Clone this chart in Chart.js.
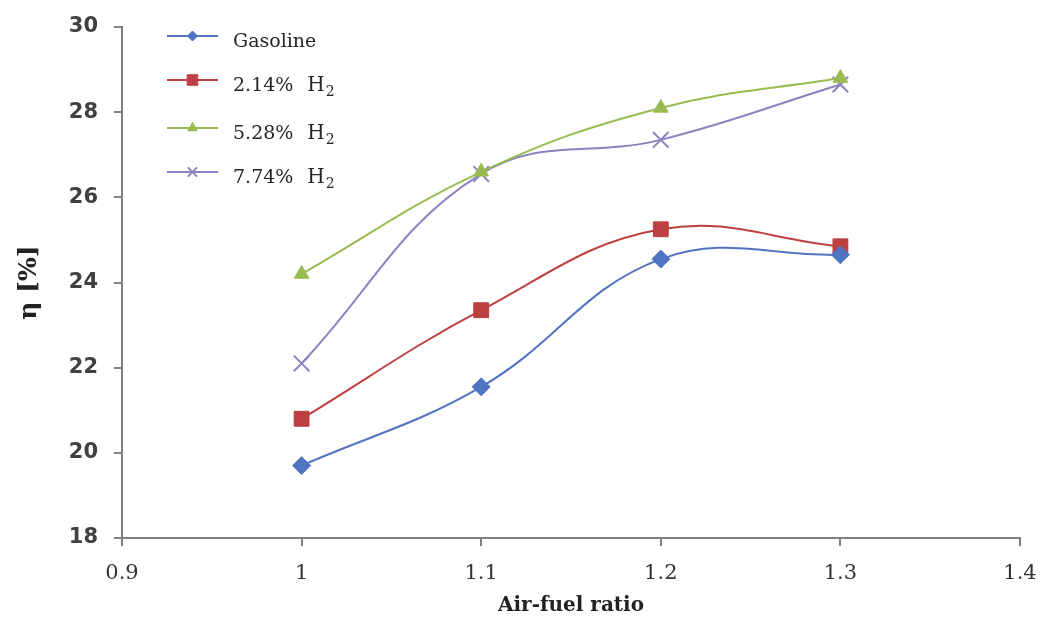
<!DOCTYPE html>
<html><head><meta charset="utf-8">
<script src="https://cdn.jsdelivr.net/npm/chart.js@4/dist/chart.umd.min.js"></script>
<style>html,body{margin:0;padding:0;background:#fff}#wrap{width:1045px;height:630px}</style>
</head><body><div id="wrap"><canvas id="c" width="1045" height="630"></canvas></div>
<script>
const airFuel = [1.0, 1.1, 1.2, 1.3];
const gasoline = [19.7, 21.55, 24.55, 24.65];
const h2_214 = [20.8, 23.35, 25.25, 24.85];
const h2_528 = [24.2, 26.6, 28.1, 28.8];
const h2_774 = [22.1, 26.55, 27.35, 28.65];
const seriesMain = ['Gasoline', '2.14%', '5.28%', '7.74%'];
const seriesChem = ['', 'H', 'H', 'H'];
const seriesSubs = ['', '2', '2', '2'];
const yTicks = [18, 20, 22, 24, 26, 28, 30];
const xTicks = [0.9, 1.0, 1.1, 1.2, 1.3, 1.4];

const SERIF = '"DejaVu Serif", "Liberation Serif", serif';
const toPts = arr => airFuel.map((x, i) => ({x: x, y: arr[i]}));
const styles = [
  {c: '#5074C0', ps: 'rectRot', r: 9, lr: 5},
  {c: '#BE3F3F', ps: 'rect', r: 10.5, lr: 7.5},
  {c: '#98BC50', ps: 'triangle', r: 8.5, lr: 5.5},
  {c: '#8A84C0', ps: 'crossRot', r: 11, lr: 6.5}
];
const dataArrs = [gasoline, h2_214, h2_528, h2_774];
const datasets = dataArrs.map((d, i) => ({
  label: seriesMain[i] + (seriesChem[i] ? ' ' + seriesChem[i] + seriesSubs[i] : ''),
  data: toPts(d),
  borderColor: styles[i].c,
  backgroundColor: styles[i].c,
  pointStyle: styles[i].ps,
  pointRadius: styles[i].r,
  pointBorderWidth: styles[i].ps === 'crossRot' ? 2 : 1,
  borderWidth: 2,
  tension: 0.4,
  fill: false
}));

const legendPlugin = {
  id: 'insideLegend',
  afterDraw(chart) {
    const ctx = chart.ctx;
    const ca = chart.chartArea;
    const x0 = ca.left + 45, x1 = ca.left + 96, xm = (x0 + x1) / 2, xt = ca.left + 111;
    const ys = [36, 80, 128, 172];
    ctx.save();
    datasets.forEach((ds, i) => {
      const y = ys[i];
      ctx.strokeStyle = ds.borderColor;
      ctx.lineWidth = 2;
      ctx.beginPath(); ctx.moveTo(x0, y); ctx.lineTo(x1, y); ctx.stroke();
      ctx.fillStyle = ds.backgroundColor;
      ctx.strokeStyle = ds.borderColor;
      ctx.lineWidth = ds.pointBorderWidth;
      Chart.helpers.drawPoint(ctx, {pointStyle: ds.pointStyle, radius: styles[i].lr, rotation: 0, borderWidth: ds.pointBorderWidth}, xm, y);
      ctx.fillStyle = '#262626';
      ctx.font = '19px ' + SERIF;
      ctx.textBaseline = 'alphabetic';
      ctx.textAlign = 'left';
      ctx.fillText(seriesMain[i], xt, y + 11);
      if (seriesChem[i]) {
        const w = ctx.measureText(seriesMain[i]).width;
        const hx = xt + w + 14;
        ctx.font = '20px ' + SERIF;
        ctx.fillText(seriesChem[i], hx, y + 11);
        const hw = ctx.measureText(seriesChem[i]).width;
        ctx.font = '14px ' + SERIF;
        ctx.fillText(seriesSubs[i], hx + hw + 1, y + 16);
      }
    });
    ctx.restore();
  }
};

new Chart(document.getElementById('c'), {
  type: 'line',
  data: {datasets},
  plugins: [legendPlugin],
  options: {
    responsive: false,
    animation: false,
    layout: {padding: {top: 27, right: 25, left: 10, bottom: 0}},
    plugins: {legend: {display: false}, tooltip: {enabled: false}},
    scales: {
      x: {
        type: 'linear', min: 0.9, max: 1.4,
        afterBuildTicks: s => { s.ticks = xTicks.map(v => ({value: v})); },
        afterFit: s => { s.height = 92; s.paddingLeft = 0; s.paddingRight = 0; },
        border: {color: '#808080', width: 2},
        grid: {drawOnChartArea: false, color: '#808080', tickLength: 8, lineWidth: 2},
        ticks: {
          callback: v => String(parseFloat(v.toFixed(1))),
          color: '#333', padding: 15,
          font: {family: SERIF, size: 21}
        },
        title: {display: true, text: 'Air-fuel ratio', color: '#222', padding: {top: 2, bottom: 12},
          font: {family: SERIF, size: 20, weight: 'bold'}}
      },
      y: {
        min: 18, max: 30,
        afterBuildTicks: s => { s.ticks = yTicks.map(v => ({value: v})); },
        afterFit: s => { s.width = 112; s.paddingTop = 0; s.paddingBottom = 0; },
        border: {color: '#808080', width: 2},
        grid: {drawOnChartArea: false, color: '#808080', tickLength: 8, lineWidth: 2},
        ticks: {
          color: '#404040', padding: 16,
          font: {family: '"DejaVu Sans", Verdana, sans-serif', size: 21, weight: 'bold'}
        },
        title: {display: true, text: 'η [%]', color: '#222', padding: {top: 4, bottom: 4},
          font: {family: SERIF, size: 25, weight: 'bold'}}
      }
    }
  }
});
</script></body></html>
